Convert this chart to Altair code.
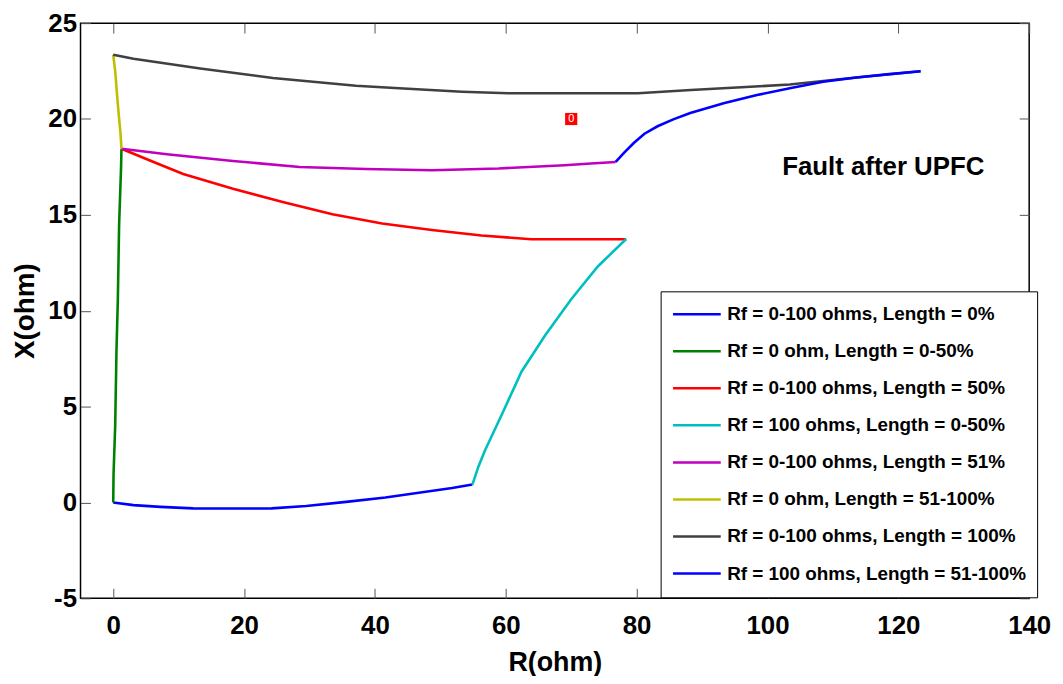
import altair as alt
import pandas as pd

# ---------------- data ----------------
series_names = [
    "Rf = 0-100 ohms, Length = 0%",
    "Rf = 0 ohm, Length = 0-50%",
    "Rf = 0-100 ohms, Length = 50%",
    "Rf = 100 ohms, Length = 0-50%",
    "Rf = 0-100 ohms, Length = 51%",
    "Rf = 0 ohm, Length = 51-100%",
    "Rf = 0-100 ohms, Length = 100%",
    "Rf = 100 ohms, Length = 51-100%",
]
series_colors = ["#0000FF", "#008000", "#FF0000", "#00BFBF",
                 "#BF00BF", "#BFBF00", "#404040", "#0000FF"]

blue1_x = [0, 3.1, 7.2, 12.2, 18, 24.2, 29.5, 35.6, 41.6, 46.7, 51.8, 54.9]
blue1_y = [0, -0.14, -0.23, -0.31, -0.32, -0.31, -0.19, 0.03, 0.26, 0.5, 0.75, 0.93]

green_x = [0, 0.05, 0.3, 0.5, 0.7, 0.8, 0.9, 1.1, 1.2, 1.26]
green_y = [0, 1.5, 4.0, 8.0, 10.5, 12.5, 14.5, 16.5, 17.5, 18.45]

red_x = [1.26, 5.7, 10.7, 18.3, 25.9, 33.5, 41.1, 48.7, 56.3, 63.9, 70, 78.4]
red_y = [18.45, 17.82, 17.13, 16.36, 15.67, 15.03, 14.55, 14.21, 13.92, 13.73, 13.73, 13.73]

cyan_x = [54.9, 55.8, 56.8, 59.4, 62.4, 66.0, 70.0, 74.1, 78.4]
cyan_y = [0.93, 1.85, 2.7, 4.59, 6.82, 8.71, 10.6, 12.32, 13.74]

magenta_x = [1.26, 8.2, 18.3, 28.5, 38.6, 48.7, 58.9, 69.0, 73.0, 76.8]
magenta_y = [18.45, 18.16, 17.81, 17.5, 17.39, 17.33, 17.42, 17.59, 17.68, 17.76]

yellow_x = [0, 0.3, 0.6, 0.85, 1.1, 1.26]
yellow_y = [23.35, 22.5, 21.2, 20.2, 19.3, 18.45]

gray_x = [0, 3.1, 13.3, 24.4, 37.1, 43.7, 53.3, 60.4, 71, 80.2, 88.3, 97.4, 103.4, 113.6, 123.4]
gray_y = [23.35, 23.14, 22.63, 22.14, 21.73, 21.6, 21.42, 21.34, 21.34, 21.34, 21.51, 21.68, 21.8, 22.16, 22.49]

blue2_x = [76.8, 78.1, 79.6, 81.2, 83.2, 85.6, 88.2, 93.3, 98.4, 103.4, 108.5, 113.6, 118.6, 123.4]
blue2_y = [17.76, 18.25, 18.76, 19.23, 19.62, 19.98, 20.31, 20.82, 21.25, 21.6, 21.94, 22.16, 22.34, 22.49]

marker_x = [70]
marker_y = [20]

note_text = ["Fault after UPFC"]
note_x = [117.7]
note_y = [17.5]

x_ticks = [0, 20, 40, 60, 80, 100, 120, 140]
y_ticks = [-5, 0, 5, 10, 15, 20, 25]

# ---------------- tables ----------------
xs_all = [blue1_x, green_x, red_x, cyan_x, magenta_x, yellow_x, gray_x, blue2_x]
ys_all = [blue1_y, green_y, red_y, cyan_y, magenta_y, yellow_y, gray_y, blue2_y]
rows = []
for k, (name, xs, ys) in enumerate(zip(series_names, xs_all, ys_all)):
    for i, (xv, yv) in enumerate(zip(xs, ys)):
        rows.append({"series": name, "R": xv, "X": yv, "idx": i, "k": k})
df = pd.DataFrame(rows)
marker_df = pd.DataFrame({"R": marker_x, "X": marker_y, "t": ["0"]})
note_df = pd.DataFrame({"R": note_x, "X": note_y, "t": note_text})

FONT = "Liberation Sans, Arial, sans-serif"

xscale = alt.Scale(domain=[-5, 140], nice=False, zero=False)
yscale = alt.Scale(domain=[-5, 25], nice=False, zero=False)

tick_common = dict(domain=False, grid=False, tickSize=10, tickColor="#555555",
                   tickWidth=1, offset=-10)

x_axis = alt.Axis(orient="bottom", values=x_ticks, title="R(ohm)",
                  labelExpr="'' + datum.value",
                  labelFont=FONT, labelFontSize=26, labelFontWeight="bold",
                  labelColor="black", labelPadding=14, labelFlush=False,
                  labelOverlap=False, titleFont=FONT, titleFontSize=27,
                  titleFontWeight="bold", titleColor="black", titlePadding=12,
                  **tick_common)
y_axis = alt.Axis(orient="left", values=y_ticks, title="X(ohm)",
                  labelExpr="'' + datum.value",
                  labelFont=FONT, labelFontSize=26, labelFontWeight="bold",
                  labelColor="black", labelPadding=4, labelFlush=False,
                  labelOverlap=False, titleFont=FONT, titleFontSize=28,
                  titleFontWeight="bold", titleColor="black", titlePadding=8,
                  **tick_common)
x_axis_top = alt.Axis(orient="top", values=x_ticks, labels=False, title=None, **tick_common)
y_axis_right = alt.Axis(orient="right", values=y_ticks, labels=False, title=None, **tick_common)

legend = alt.Legend(
    title=None, orient="none", legendX=584, legendY=270, direction="vertical",
    symbolType="stroke", symbolSize=2304, symbolStrokeWidth=2.5,
    clipHeight=24, rowPadding=13.3, padding=11, symbolOffset=0, labelOffset=5,
    labelFont=FONT, labelFontSize=19, labelFontWeight="bold", labelColor="black",
    labelLimit=600, strokeColor="black", fillColor="white",
)

lines = alt.Chart(df).mark_line(strokeWidth=2.6).encode(
    x=alt.X("R:Q", scale=xscale, axis=x_axis),
    y=alt.Y("X:Q", scale=yscale, axis=y_axis),
    color=alt.Color("series:N", sort=series_names,
                    scale=alt.Scale(domain=series_names, range=series_colors),
                    legend=legend),
    order=alt.Order("idx:Q"),
)

marker = alt.Chart(marker_df).mark_square(color="#FF0000", size=150, opacity=1).encode(
    x=alt.X("R:Q", scale=xscale, axis=x_axis_top),
    y=alt.Y("X:Q", scale=yscale, axis=y_axis_right),
)
marker_txt = alt.Chart(marker_df).mark_text(color="white", fontSize=11, font=FONT,
                                            baseline="middle", align="center").encode(
    x=alt.X("R:Q", scale=xscale, axis=None),
    y=alt.Y("X:Q", scale=yscale, axis=None),
    text="t:N",
)
note = alt.Chart(note_df).mark_text(color="black", fontSize=26, font=FONT,
                                    fontWeight="bold", baseline="middle",
                                    align="center").encode(
    x=alt.X("R:Q", scale=xscale, axis=None),
    y=alt.Y("X:Q", scale=yscale, axis=None),
    text="t:N",
)

chart = alt.layer(lines, marker, marker_txt, note).resolve_axis(
    x="independent", y="independent"
).properties(
    width=955, height=579,
    autosize=alt.AutoSizeParams(type="none"),
    padding={"left": 73, "top": 13, "right": 26, "bottom": 76},
    background="white",
).configure_view(stroke="black", strokeWidth=1.5)

chart.save("out.html", embed_options={"renderer": "svg", "actions": False})
